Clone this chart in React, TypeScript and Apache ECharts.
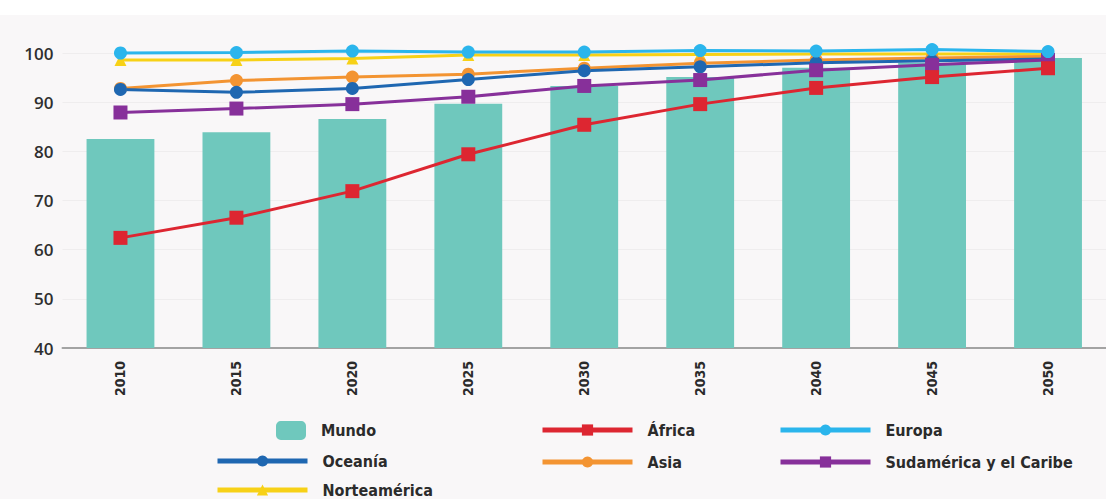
import React, { useEffect, useRef } from "react";
import * as echarts from "echarts";

const years = ["2010", "2015", "2020", "2025", "2030", "2035", "2040", "2045", "2050"];
const mundo = [82.5, 83.9, 86.6, 89.7, 93.3, 95.1, 97.0, 98.0, 99.0];
const africa = [62.4, 66.5, 71.9, 79.4, 85.4, 89.6, 92.9, 95.1, 96.9];
const europa = [100.0, 100.1, 100.4, 100.2, 100.2, 100.5, 100.4, 100.7, 100.3];
const oceania = [92.6, 92.0, 92.8, 94.6, 96.4, 97.2, 98.0, 98.4, 98.8];
const asia = [92.8, 94.4, 95.1, 95.7, 96.9, 97.9, 98.6, 99.0, 99.3];
const sudamerica = [87.9, 88.7, 89.6, 91.1, 93.3, 94.5, 96.5, 97.6, 98.6];
const norteamerica = [98.6, 98.6, 98.9, 99.6, 99.6, 99.7, 99.8, 99.8, 99.8];
const yTicks = [40, 50, 60, 70, 80, 90, 100];

const condensed = "'Liberation Sans Narrow', 'DejaVu Sans Condensed', 'Roboto', sans-serif";

export default function App() {
  const ref = useRef<HTMLDivElement>(null);
  useEffect(() => {
    if (!ref.current) return;
    const chart = echarts.init(ref.current, undefined, { renderer: "svg" });
    const lineSeries = (name: string, data: number[], color: string, symbol: string, size: number) => ({
      name,
      type: "line",
      data,
      clip: false,
      symbol,
      symbolSize: size,
      lineStyle: { color, width: 3 },
      itemStyle: { color },
    });
    const legendText = {
      fontFamily: condensed,
      fontSize: 16,
      fontWeight: 600,
      color: "#2b2b2b",
      padding: [0, 0, 0, 10],
    };
    const lineLegend = {
      orient: "vertical",
      padding: 0,
      height: 120,
      itemWidth: 90,
      itemHeight: 14,
      lineStyle: { width: 5 },
      textStyle: legendText,
    };
    chart.setOption({
      animation: false,
      backgroundColor: "#ffffff",
      graphic: [
        {
          type: "rect",
          silent: true,
          z: -10,
          shape: { x: 0, y: 15, width: 1106, height: 484 },
          style: { fill: "#f9f7f8" },
        },
      ],
      grid: { left: 62.5, right: -18, top: 53, bottom: 151 },
      xAxis: {
        type: "category",
        data: years,
        axisLine: { lineStyle: { color: "#a3a3a3", width: 2 } },
        axisTick: { show: false },
        axisLabel: {
          rotate: 90,
          margin: 13,
          fontFamily: condensed,
          fontSize: 14,
          fontWeight: 600,
          color: "#2b2b2b",
        },
      },
      yAxis: {
        type: "value",
        min: yTicks[0],
        max: yTicks[yTicks.length - 1],
        interval: 10,
        axisLine: { show: false },
        axisTick: { show: false },
        splitLine: { lineStyle: { color: "#efedee", width: 1 } },
        axisLabel: {
          margin: 9,
          fontFamily: "'Open Sans', sans-serif",
          fontSize: 17,
          fontWeight: 600,
          color: "#2f2f2f",
        },
      },
      legend: [
        {
          data: ["Mundo"],
          padding: 0,
          left: 276,
          top: 421,
          itemWidth: 30,
          itemHeight: 19,
          textStyle: legendText,
        },
        { ...lineLegend, data: ["Oceanía", "Norteamérica"], left: 215, top: 453, itemGap: 13 },
        { ...lineLegend, data: ["África", "Asia"], left: 540, top: 422, itemGap: 16 },
        { ...lineLegend, data: ["Europa", "Sudamérica y el Caribe"], left: 778, top: 422, itemGap: 16 },
      ],
      series: [
        {
          name: "Mundo",
          type: "bar",
          data: mundo,
          barWidth: "58.5%",
          itemStyle: { color: "#6fc8bd" },
        },
        lineSeries("Norteamérica", norteamerica, "#f7d117", "triangle", 12),
        lineSeries("Asia", asia, "#f39432", "circle", 13),
        lineSeries("Oceanía", oceania, "#1f67b1", "circle", 13),
        lineSeries("Sudamérica y el Caribe", sudamerica, "#87309a", "rect", 14),
        lineSeries("África", africa, "#dd2631", "rect", 14),
        lineSeries("Europa", europa, "#2bb5ec", "circle", 13),
      ],
    });
    return () => chart.dispose();
  }, []);
  return (
    <div
      ref={ref}
      style={{ position: "fixed", left: 0, top: 0, width: 1106, height: 499 }}
    />
  );
}
